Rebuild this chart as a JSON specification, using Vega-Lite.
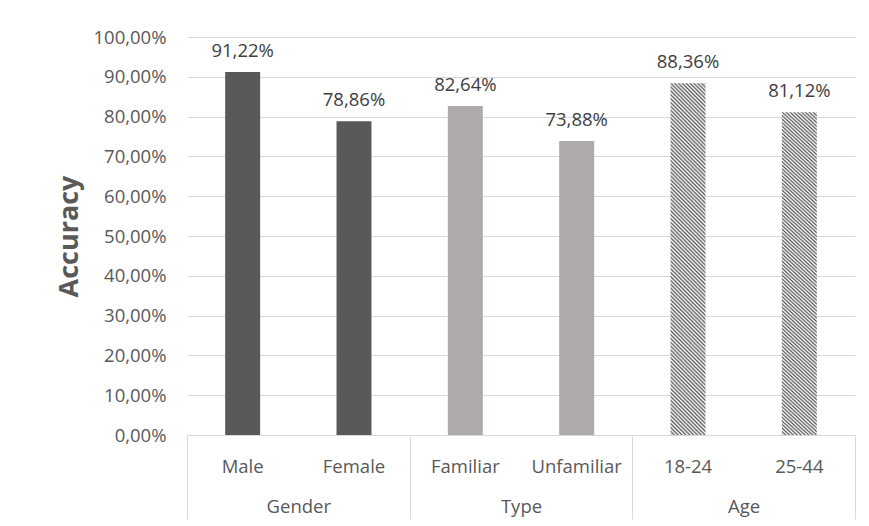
{
  "$schema": "https://vega.github.io/schema/vega-lite/v6.json",
  "width": 668,
  "height": 398,
  "autosize": {"type": "none"},
  "padding": {"left": 187, "top": 37, "right": 14, "bottom": 91},
  "background": "white",
  "config": {
    "view": {"stroke": null},
    "font": "Open Sans",
    "locale": {"number": {"decimal": ",", "thousands": ".", "grouping": [3], "currency": ["", " €"]}}
  },
  "data": {
    "values": [
      {"group": "Gender", "cat": "Male", "acc": 0.9122},
      {"group": "Gender", "cat": "Female", "acc": 0.7886},
      {"group": "Type", "cat": "Familiar", "acc": 0.8264},
      {"group": "Type", "cat": "Unfamiliar", "acc": 0.7388},
      {"group": "Age", "cat": "18-24", "acc": 0.8836},
      {"group": "Age", "cat": "25-44", "acc": 0.8112}
    ]
  },
  "encoding": {
    "y": {
      "field": "acc", "type": "quantitative",
      "scale": {"domain": [0, 1], "nice": false},
      "axis": {"values": [0, 0.1, 0.2, 0.3, 0.4, 0.5, 0.6, 0.7, 0.8, 0.9, 1], "labelOverlap": false, "format": ".2%", "grid": true, "gridColor": "#d9d9d9", "gridWidth": 1, "domain": false, "ticks": false, "labelPadding": 21, "labelFontSize": 18.5, "labelColor": "#595959", "labelFont": "Open Sans", "title": "Accuracy", "titleFontSize": 27, "titleFontWeight": "bold", "titleColor": "#595959", "titleFont": "Open Sans", "titlePadding": 10}
    }
  },
  "layer": [
    {
      "encoding": {
        "x": {
          "field": "cat", "type": "nominal", "sort": null,
          "scale": {"type": "band", "paddingInner": 0.686, "paddingOuter": 0.343},
          "axis": {"orient": "bottom", "title": null, "labelAngle": 0, "ticks": false, "domain": true, "domainColor": "#d9d9d9", "domainWidth": 1, "labelPadding": 22, "labelFontSize": 18.5, "labelColor": "#595959", "labelFont": "Open Sans"}
        }
      },
      "layer": [
        {
          "mark": {"type": "bar"},
          "encoding": {
            "fill": {
              "condition": [
                {"test": "datum.group === 'Gender'", "value": "#595959"},
                {"test": "datum.group === 'Type'", "value": "#aeaaaa"}
              ],
              "value": {
                "gradient": "linear", "x1": 0, "y1": 1, "x2": 0.1089, "y2": -0.0891,
                "stops": [
{"offset":0,"color":"#5e5e5e"},{"offset":0.005,"color":"#fff"},{"offset":0.01,"color":"#5e5e5e"},{"offset":0.015,"color":"#fff"},{"offset":0.02,"color":"#5e5e5e"},{"offset":0.025,"color":"#fff"},{"offset":0.03,"color":"#5e5e5e"},{"offset":0.035,"color":"#fff"},{"offset":0.04,"color":"#5e5e5e"},{"offset":0.045,"color":"#fff"},
{"offset":0.05,"color":"#5e5e5e"},{"offset":0.055,"color":"#fff"},{"offset":0.06,"color":"#5e5e5e"},{"offset":0.065,"color":"#fff"},{"offset":0.07,"color":"#5e5e5e"},{"offset":0.075,"color":"#fff"},{"offset":0.08,"color":"#5e5e5e"},{"offset":0.085,"color":"#fff"},{"offset":0.09,"color":"#5e5e5e"},{"offset":0.095,"color":"#fff"},
{"offset":0.1,"color":"#5e5e5e"},{"offset":0.105,"color":"#fff"},{"offset":0.11,"color":"#5e5e5e"},{"offset":0.115,"color":"#fff"},{"offset":0.12,"color":"#5e5e5e"},{"offset":0.125,"color":"#fff"},{"offset":0.13,"color":"#5e5e5e"},{"offset":0.135,"color":"#fff"},{"offset":0.14,"color":"#5e5e5e"},{"offset":0.145,"color":"#fff"},
{"offset":0.15,"color":"#5e5e5e"},{"offset":0.155,"color":"#fff"},{"offset":0.16,"color":"#5e5e5e"},{"offset":0.165,"color":"#fff"},{"offset":0.17,"color":"#5e5e5e"},{"offset":0.175,"color":"#fff"},{"offset":0.18,"color":"#5e5e5e"},{"offset":0.185,"color":"#fff"},{"offset":0.19,"color":"#5e5e5e"},{"offset":0.195,"color":"#fff"},
{"offset":0.2,"color":"#5e5e5e"},{"offset":0.205,"color":"#fff"},{"offset":0.21,"color":"#5e5e5e"},{"offset":0.215,"color":"#fff"},{"offset":0.22,"color":"#5e5e5e"},{"offset":0.225,"color":"#fff"},{"offset":0.23,"color":"#5e5e5e"},{"offset":0.235,"color":"#fff"},{"offset":0.24,"color":"#5e5e5e"},{"offset":0.245,"color":"#fff"},
{"offset":0.25,"color":"#5e5e5e"},{"offset":0.255,"color":"#fff"},{"offset":0.26,"color":"#5e5e5e"},{"offset":0.265,"color":"#fff"},{"offset":0.27,"color":"#5e5e5e"},{"offset":0.275,"color":"#fff"},{"offset":0.28,"color":"#5e5e5e"},{"offset":0.285,"color":"#fff"},{"offset":0.29,"color":"#5e5e5e"},{"offset":0.295,"color":"#fff"},
{"offset":0.3,"color":"#5e5e5e"},{"offset":0.305,"color":"#fff"},{"offset":0.31,"color":"#5e5e5e"},{"offset":0.315,"color":"#fff"},{"offset":0.32,"color":"#5e5e5e"},{"offset":0.325,"color":"#fff"},{"offset":0.33,"color":"#5e5e5e"},{"offset":0.335,"color":"#fff"},{"offset":0.34,"color":"#5e5e5e"},{"offset":0.345,"color":"#fff"},
{"offset":0.35,"color":"#5e5e5e"},{"offset":0.355,"color":"#fff"},{"offset":0.36,"color":"#5e5e5e"},{"offset":0.365,"color":"#fff"},{"offset":0.37,"color":"#5e5e5e"},{"offset":0.375,"color":"#fff"},{"offset":0.38,"color":"#5e5e5e"},{"offset":0.385,"color":"#fff"},{"offset":0.39,"color":"#5e5e5e"},{"offset":0.395,"color":"#fff"},
{"offset":0.4,"color":"#5e5e5e"},{"offset":0.405,"color":"#fff"},{"offset":0.41,"color":"#5e5e5e"},{"offset":0.415,"color":"#fff"},{"offset":0.42,"color":"#5e5e5e"},{"offset":0.425,"color":"#fff"},{"offset":0.43,"color":"#5e5e5e"},{"offset":0.435,"color":"#fff"},{"offset":0.44,"color":"#5e5e5e"},{"offset":0.445,"color":"#fff"},
{"offset":0.45,"color":"#5e5e5e"},{"offset":0.455,"color":"#fff"},{"offset":0.46,"color":"#5e5e5e"},{"offset":0.465,"color":"#fff"},{"offset":0.47,"color":"#5e5e5e"},{"offset":0.475,"color":"#fff"},{"offset":0.48,"color":"#5e5e5e"},{"offset":0.485,"color":"#fff"},{"offset":0.49,"color":"#5e5e5e"},{"offset":0.495,"color":"#fff"},
{"offset":0.5,"color":"#5e5e5e"},{"offset":0.505,"color":"#fff"},{"offset":0.51,"color":"#5e5e5e"},{"offset":0.515,"color":"#fff"},{"offset":0.52,"color":"#5e5e5e"},{"offset":0.525,"color":"#fff"},{"offset":0.53,"color":"#5e5e5e"},{"offset":0.535,"color":"#fff"},{"offset":0.54,"color":"#5e5e5e"},{"offset":0.545,"color":"#fff"},
{"offset":0.55,"color":"#5e5e5e"},{"offset":0.555,"color":"#fff"},{"offset":0.56,"color":"#5e5e5e"},{"offset":0.565,"color":"#fff"},{"offset":0.57,"color":"#5e5e5e"},{"offset":0.575,"color":"#fff"},{"offset":0.58,"color":"#5e5e5e"},{"offset":0.585,"color":"#fff"},{"offset":0.59,"color":"#5e5e5e"},{"offset":0.595,"color":"#fff"},
{"offset":0.6,"color":"#5e5e5e"},{"offset":0.605,"color":"#fff"},{"offset":0.61,"color":"#5e5e5e"},{"offset":0.615,"color":"#fff"},{"offset":0.62,"color":"#5e5e5e"},{"offset":0.625,"color":"#fff"},{"offset":0.63,"color":"#5e5e5e"},{"offset":0.635,"color":"#fff"},{"offset":0.64,"color":"#5e5e5e"},{"offset":0.645,"color":"#fff"},
{"offset":0.65,"color":"#5e5e5e"},{"offset":0.655,"color":"#fff"},{"offset":0.66,"color":"#5e5e5e"},{"offset":0.665,"color":"#fff"},{"offset":0.67,"color":"#5e5e5e"},{"offset":0.675,"color":"#fff"},{"offset":0.68,"color":"#5e5e5e"},{"offset":0.685,"color":"#fff"},{"offset":0.69,"color":"#5e5e5e"},{"offset":0.695,"color":"#fff"},
{"offset":0.7,"color":"#5e5e5e"},{"offset":0.705,"color":"#fff"},{"offset":0.71,"color":"#5e5e5e"},{"offset":0.715,"color":"#fff"},{"offset":0.72,"color":"#5e5e5e"},{"offset":0.725,"color":"#fff"},{"offset":0.73,"color":"#5e5e5e"},{"offset":0.735,"color":"#fff"},{"offset":0.74,"color":"#5e5e5e"},{"offset":0.745,"color":"#fff"},
{"offset":0.75,"color":"#5e5e5e"},{"offset":0.755,"color":"#fff"},{"offset":0.76,"color":"#5e5e5e"},{"offset":0.765,"color":"#fff"},{"offset":0.77,"color":"#5e5e5e"},{"offset":0.775,"color":"#fff"},{"offset":0.78,"color":"#5e5e5e"},{"offset":0.785,"color":"#fff"},{"offset":0.79,"color":"#5e5e5e"},{"offset":0.795,"color":"#fff"},
{"offset":0.8,"color":"#5e5e5e"},{"offset":0.805,"color":"#fff"},{"offset":0.81,"color":"#5e5e5e"},{"offset":0.815,"color":"#fff"},{"offset":0.82,"color":"#5e5e5e"},{"offset":0.825,"color":"#fff"},{"offset":0.83,"color":"#5e5e5e"},{"offset":0.835,"color":"#fff"},{"offset":0.84,"color":"#5e5e5e"},{"offset":0.845,"color":"#fff"},
{"offset":0.85,"color":"#5e5e5e"},{"offset":0.855,"color":"#fff"},{"offset":0.86,"color":"#5e5e5e"},{"offset":0.865,"color":"#fff"},{"offset":0.87,"color":"#5e5e5e"},{"offset":0.875,"color":"#fff"},{"offset":0.88,"color":"#5e5e5e"},{"offset":0.885,"color":"#fff"},{"offset":0.89,"color":"#5e5e5e"},{"offset":0.895,"color":"#fff"},
{"offset":0.9,"color":"#5e5e5e"},{"offset":0.905,"color":"#fff"},{"offset":0.91,"color":"#5e5e5e"},{"offset":0.915,"color":"#fff"},{"offset":0.92,"color":"#5e5e5e"},{"offset":0.925,"color":"#fff"},{"offset":0.93,"color":"#5e5e5e"},{"offset":0.935,"color":"#fff"},{"offset":0.94,"color":"#5e5e5e"},{"offset":0.945,"color":"#fff"},
{"offset":0.95,"color":"#5e5e5e"},{"offset":0.955,"color":"#fff"},{"offset":0.96,"color":"#5e5e5e"},{"offset":0.965,"color":"#fff"},{"offset":0.97,"color":"#5e5e5e"},{"offset":0.975,"color":"#fff"},{"offset":0.98,"color":"#5e5e5e"},{"offset":0.985,"color":"#fff"},{"offset":0.99,"color":"#5e5e5e"},{"offset":0.995,"color":"#fff"},
{"offset":1,"color":"#5e5e5e"}
                ]
              }
            }
          }
        },
        {
          "mark": {"type": "text", "baseline": "bottom", "dy": -11, "fontSize": 18.5, "font": "Open Sans", "color": "#404040"},
          "encoding": {
            "text": {"field": "acc", "type": "quantitative", "format": ".2%"}
          }
        }
      ]
    },
    {
      "mark": {"type": "bar", "opacity": 0},
      "encoding": {
        "x": {
          "field": "group", "type": "nominal", "sort": null,
          "scale": {"type": "band", "paddingInner": 0, "paddingOuter": 0},
          "axis": {"orient": "bottom", "title": null, "labelAngle": 0, "domain": false, "ticks": true, "tickBand": "extent", "tickSize": 84, "tickColor": "#d9d9d9", "tickWidth": 1, "labelPadding": -22, "labelFontSize": 18.5, "labelColor": "#595959", "labelFont": "Open Sans", "grid": false}
        }
      }
    }
  ],
  "resolve": {"scale": {"x": "independent"}, "axis": {"x": "independent"}}
}
